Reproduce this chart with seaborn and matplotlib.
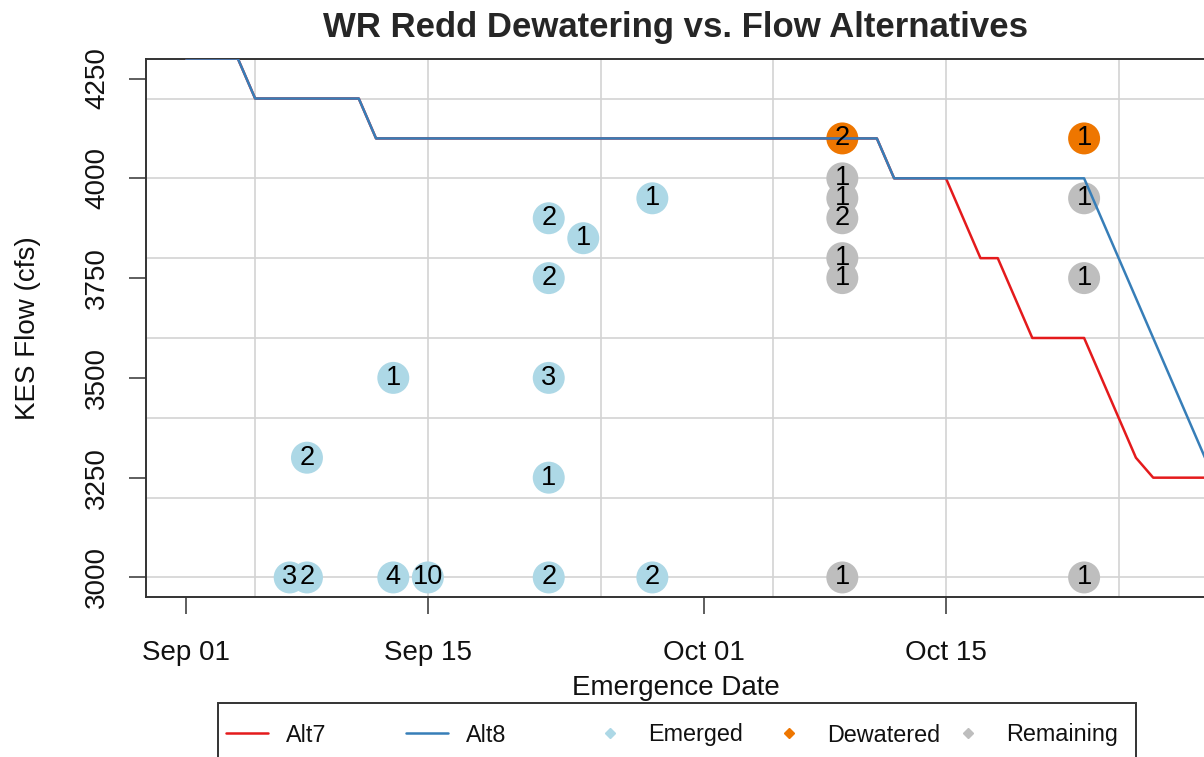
import matplotlib
matplotlib.use("Agg")
import numpy as np
import pandas as pd
import matplotlib.pyplot as plt
import matplotlib.dates as mdates
from matplotlib.ticker import MultipleLocator
from matplotlib.lines import Line2D
from matplotlib.patches import Rectangle
import seaborn as sns

sns.set_style("white")
plt.rcParams["font.family"] = ["Liberation Sans", "DejaVu Sans"]

# ---------------- data ----------------
flow_dates = pd.date_range("2021-09-01", "2021-10-30", freq="D")

alt7_flow = [4300, 4300, 4300, 4300,
             4200, 4200, 4200, 4200, 4200, 4200, 4200,
             4100, 4100, 4100, 4100, 4100, 4100, 4100, 4100, 4100, 4100,
             4100, 4100, 4100, 4100, 4100, 4100, 4100, 4100, 4100, 4100,
             4100, 4100, 4100, 4100, 4100, 4100, 4100, 4100, 4100, 4100,
             4000, 4000, 4000, 4000,
             3900, 3800, 3800, 3700,
             3600, 3600, 3600, 3600,
             3500, 3400, 3300,
             3250, 3250, 3250, 3250]

alt8_flow = [4300, 4300, 4300, 4300,
             4200, 4200, 4200, 4200, 4200, 4200, 4200,
             4100, 4100, 4100, 4100, 4100, 4100, 4100, 4100, 4100, 4100,
             4100, 4100, 4100, 4100, 4100, 4100, 4100, 4100, 4100, 4100,
             4100, 4100, 4100, 4100, 4100, 4100, 4100, 4100, 4100, 4100,
             4000, 4000, 4000, 4000, 4000, 4000, 4000, 4000, 4000, 4000,
             4000, 4000,
             3900, 3800, 3700, 3600, 3500, 3400, 3300]

pt_dates = ["2021-09-07", "2021-09-08", "2021-09-08", "2021-09-13", "2021-09-13",
            "2021-09-15", "2021-09-22", "2021-09-22", "2021-09-22", "2021-09-22",
            "2021-09-22", "2021-09-24", "2021-09-28", "2021-09-28",
            "2021-10-09", "2021-10-23",
            "2021-10-09", "2021-10-09", "2021-10-09", "2021-10-09", "2021-10-09",
            "2021-10-09", "2021-10-23", "2021-10-23", "2021-10-23"]
pt_flows = [3000, 3000, 3300, 3000, 3500,
            3000, 3000, 3250, 3500, 3750,
            3900, 3850, 3000, 3950,
            4100, 4100,
            4000, 3950, 3900, 3800, 3750,
            3000, 3950, 3750, 3000]
pt_counts = [3, 2, 2, 4, 1,
             10, 2, 1, 3, 2,
             2, 1, 2, 1,
             2, 1,
             1, 1, 2, 1, 1,
             1, 1, 1, 1]
pt_status = ["Emerged"] * 14 + ["Dewatered"] * 2 + ["Remaining"] * 9

line_labels = ["Alt7", "Alt8"]
line_colors = ["#E41A1C", "#377EB8"]
status_labels = ["Emerged", "Dewatered", "Remaining"]
status_colors = ["#ADD8E6", "#EE7600", "#BEBEBE"]

title_text = "WR Redd Dewatering vs. Flow Alternatives"
x_label = "Emergence Date"
y_label = "KES Flow (cfs)"

# ---------------- frames ----------------
lines_df = pd.concat([
    pd.DataFrame({"date": flow_dates, "flow": alt7_flow, "alt": "Alt7"}),
    pd.DataFrame({"date": flow_dates, "flow": alt8_flow, "alt": "Alt8"}),
], ignore_index=True)

pts_df = pd.DataFrame({"date": pd.to_datetime(pt_dates), "flow": pt_flows,
                       "count": pt_counts, "status": pt_status})

# ---------------- figure ----------------
W, H = 1204, 757
fig = plt.figure(figsize=(W / 100, H / 100), dpi=100)
ax = fig.add_axes([146 / W, 160 / H, 1059 / W, 538 / H])

sns.scatterplot(data=pts_df, x="date", y="flow", hue="status",
                hue_order=status_labels, palette=dict(zip(status_labels, status_colors)),
                s=530, linewidth=0, legend=False, ax=ax, zorder=2)

sns.lineplot(data=lines_df, x="date", y="flow", hue="alt", hue_order=line_labels,
             palette=dict(zip(line_labels, line_colors)), linewidth=1.8,
             legend=False, ax=ax, zorder=3, estimator=None)

for d, f, c in zip(pts_df["date"], pts_df["flow"], pts_df["count"]):
    ax.text(d, f, str(c), ha="center", va="center", fontsize=19.5,
            color="black", zorder=5)

# limits
x0 = pd.Timestamp("2021-09-01") - pd.Timedelta(days=2.32)
x1 = pd.Timestamp("2021-10-30")
ax.set_xlim(x0, x1)
ax.set_ylim(2951, 4299)

# ticks / grid
ax.xaxis.set_major_locator(mdates.DayLocator(bymonthday=[1, 15]))
ax.xaxis.set_major_formatter(mdates.DateFormatter("%b %d"))
ax.xaxis.set_minor_locator(mdates.DayLocator(bymonthday=[5, 15, 25]))
ax.yaxis.set_major_locator(MultipleLocator(250))
ax.yaxis.set_minor_locator(MultipleLocator(200))
ax.xaxis.remove_overlapping_locs = False
ax.yaxis.remove_overlapping_locs = False

ax.set_axisbelow(True)
ax.grid(False, which="major")
ax.grid(True, which="minor", color="#D3D3D3", linewidth=1.2)

ax.tick_params(axis="both", which="major", bottom=True, left=True, length=12,
               width=1.1, color="#333333", labelsize=20, direction="out",
               labelcolor="#111111")
ax.tick_params(axis="x", which="major", pad=19)
ax.tick_params(axis="y", which="major", pad=14, labelrotation=90)
ax.tick_params(axis="both", which="minor", length=0)
plt.setp(ax.get_yticklabels(), va="center")

for sp in ax.spines.values():
    sp.set_color("#333333")
    sp.set_linewidth(1.4)
    sp.set_visible(True)

# labels
ax.set_xlabel(x_label, fontsize=20, color="#111111")
ax.set_ylabel(y_label, fontsize=20, color="#111111")
ax.xaxis.label.set_va("center")
ax.yaxis.label.set_va("center")
ax.xaxis.set_label_coords(0.5, -91 / 538)
ax.yaxis.set_label_coords(-118 / 1059, 0.5)

ax.set_title(title_text, fontsize=25, fontweight="bold", y=1 + 32 / 538,
             pad=0, va="center")

# legend: five entries in equal-width slots inside one box
handles = [Line2D([], [], color=c, lw=1.8) for c in line_colors] + \
          [Line2D([], [], color=c, lw=0, marker="D", markersize=5) for c in status_colors]
labels = line_labels + status_labels
slot_x = [226, 406, 589, 768, 947]
for h, l, sx in zip(handles, labels, slot_x):
    fig.legend(handles=[h], labels=[l], loc="center left",
               bbox_to_anchor=(sx / W, 22 / H), frameon=False, borderpad=0,
               borderaxespad=0, handlelength=1.8, handletextpad=0.75,
               fontsize=16.8, labelcolor="#111111")
fig.add_artist(Rectangle((218 / W, -0.05), 918 / W, (757 - 703) / H + 0.05,
                         transform=fig.transFigure, fill=False,
                         edgecolor="#333333", linewidth=1.4))

fig.savefig("out.png", dpi=100)
